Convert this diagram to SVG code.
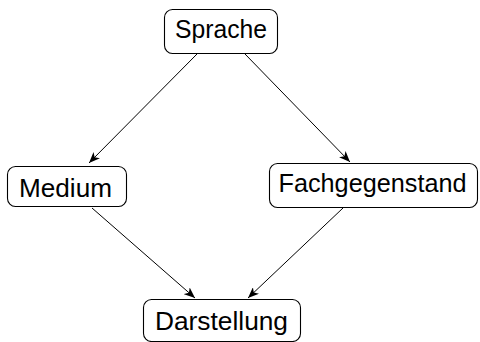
<svg xmlns="http://www.w3.org/2000/svg" width="480" height="342" viewBox="0 0 480 342">
<style>
.box{fill:#fff;stroke:#000;stroke-width:1.1}
.lbl{font-family:"Liberation Sans",Arial,sans-serif;font-size:26px;fill:#000;text-anchor:middle}
.edge{stroke:#000;stroke-width:1;fill:none;marker-end:url(#ah)}
</style>
<defs>
<marker id="ah" viewBox="0 0 11 9" refX="11" refY="4.5" markerWidth="11" markerHeight="9" markerUnits="userSpaceOnUse" orient="auto">
<path d="M0,0 L11,4.5 L0,9 L3,4.5 Z" fill="#000"/>
</marker>
</defs>
<g id="connectors">
<path class="edge" d="M197,54 L89,163"/>
<path class="edge" d="M245,54 L350,162"/>
<path class="edge" d="M92,208 L195,298"/>
<path class="edge" d="M343,208 L248,298"/>
</g>
<g id="n-sprache">
<rect class="box" x="164.5" y="9.5" width="113" height="44" rx="8"/>
<text class="lbl" x="221" y="38" textLength="92" lengthAdjust="spacingAndGlyphs">Sprache</text>
</g>
<g id="n-medium">
<rect class="box" x="7.5" y="166.5" width="119" height="40" rx="8"/>
<text class="lbl" x="65.5" y="197" textLength="93" lengthAdjust="spacingAndGlyphs">Medium</text>
</g>
<g id="n-fach">
<rect class="box" x="269.5" y="163.5" width="208" height="44" rx="8"/>
<text class="lbl" x="372.5" y="192" textLength="188" lengthAdjust="spacingAndGlyphs">Fachgegenstand</text>
</g>
<g id="n-darstellung">
<rect class="box" x="143.5" y="299.5" width="157" height="42" rx="8"/>
<text class="lbl" x="221.5" y="330" textLength="133" lengthAdjust="spacingAndGlyphs">Darstellung</text>
</g>
</svg>
